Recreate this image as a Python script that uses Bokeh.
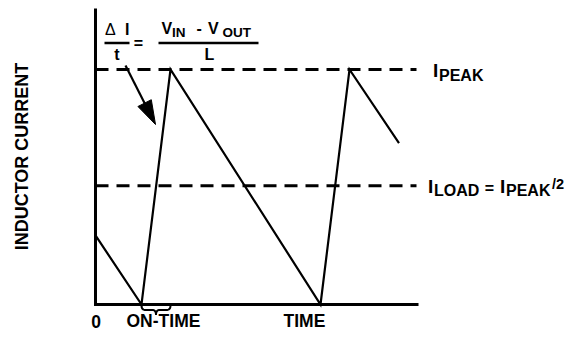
import numpy as np
from bokeh.plotting import figure
from bokeh.models import Range1d, Label
from bokeh.embed import file_html
from bokeh.resources import INLINE

# ---------------- data (time in arbitrary units, current relative to I_PEAK) ----------------
time_pts = [0.0, 46.0, 75.0, 225.0, 254.0, 303.5]
current_pts = [0.294, 0.0, 1.0, 0.0, 1.0, 0.687]
i_peak = 1.0
i_load = 0.505
on_time = [46.0, 75.0]
t_axis_end = 323.0
t_ref_end = 321.0
i_axis_top = 1.26
x_labels = ["0", "ON-TIME", "TIME"]

# ---------------- layout mapping (reference px -> figure px) ----------------
X0, Y0, SY = 97.0, 304.0, 235.0   # reference px of origin, px per current unit
W, H = 565, 331
SHIFT_X = 2.0                     # figure_x = ref_x - SHIFT_X
MID = 0.3465                      # baseline offset below em-middle (fraction of font size)


def dx(px):
    return px - X0


def dy(py):
    return (Y0 - py) / SY


p = figure(width=W, height=H,
           x_range=Range1d(SHIFT_X - X0, SHIFT_X + W - X0),
           y_range=Range1d(dy(H), dy(0)),
           output_backend="svg", toolbar_location=None,
           x_axis_location=None, y_axis_location=None,
           min_border=0)
p.min_border_left = p.min_border_right = p.min_border_top = p.min_border_bottom = 0
p.outline_line_color = None
p.xgrid.visible = False
p.ygrid.visible = False
p.background_fill_color = "white"
p.border_fill_color = "white"

FONT = "Liberation Sans"

# axes frame
p.line([0, 0, t_axis_end], [i_axis_top, 0, 0], line_width=3, line_color="black",
       line_join="miter", line_cap="butt")

# reference dashed lines
for lvl in (i_peak, i_load):
    p.line([0, t_ref_end], [lvl, lvl], line_width=3, line_color="black",
           line_dash="13 8", line_cap="butt")

# inductor current waveform
p.line(time_pts, current_pts, line_width=2.2, line_color="black", line_join="miter")

# brace under the on-time
x1, x2 = X0 + on_time[0], X0 + on_time[1]
xm = (x1 + x2) / 2


def qbez(a, c, b, n=8):
    t = np.linspace(0, 1, n)
    return ((1 - t) ** 2 * a[0] + 2 * (1 - t) * t * c[0] + t ** 2 * b[0],
            (1 - t) ** 2 * a[1] + 2 * (1 - t) * t * c[1] + t ** 2 * b[1])


ytop, ymid, ytip = 305.0, 309.5, 314.5
bx, by = [], []
for a, c, b in [((x1, ytop), (x1, ymid), (x1 + 4, ymid)),
                ((xm - 3.5, ymid), (xm, ymid), (xm, ytip)),
                ((xm, ytip), (xm, ymid), (xm + 3.5, ymid)),
                ((x2 - 4, ymid), (x2, ymid), (x2, ytop))]:
    qx, qy = qbez(a, c, b)
    bx.extend(qx)
    by.extend(qy)
p.line([dx(v) for v in bx], [dy(v) for v in by], line_width=2, line_color="black")

# arrow from the formula to the rising slope
sx, sy_, tx, ty = 127.0, 65.0, 157.0, 124.0
L = np.hypot(tx - sx, ty - sy_)
ux, uy = (tx - sx) / L, (ty - sy_) / L
hl, hw = 24.0, 7.5
bxc, byc = tx - hl * ux, ty - hl * uy
p.line([dx(sx), dx(bxc + 2 * ux)], [dy(sy_), dy(byc + 2 * uy)], line_width=2.2, line_color="black")
p.patch([dx(tx), dx(bxc - hw * uy), dx(bxc + hw * uy)],
        [dy(ty), dy(byc + hw * ux), dy(byc - hw * ux)],
        fill_color="black", line_color="black", line_width=1)

# fraction bars
p.segment(x0=[dx(106), dx(160)], y0=[dy(42.5), dy(42.5)],
          x1=[dx(131), dx(260)], y1=[dy(42.5), dy(42.5)],
          line_width=2.5, line_color="black")


def lab(text, px, base, size, bold=True, align="left", angle=0.0, centre=False):
    """Place a text run; `base` is its baseline in reference px (or its centre if centre=True)."""
    ymid = base if centre else base - MID * size
    p.add_layout(Label(x=dx(px), y=dy(ymid), text=text, text_font=FONT,
                       text_font_style="bold" if bold else "normal",
                       text_font_size=f"{size}px", text_align=align,
                       text_baseline="middle", text_color="black",
                       angle=angle))


# formula  ΔI/t = (V_IN - V_OUT)/L
lab("\u0394", 106.5, 35, 16, bold=False)
lab("I", 126.5, 35, 16)
lab("t", 118.5, 59.5, 16, align="center")
lab("=", 140, 42.5, 16, align="center", centre=True)
lab("V", 163, 33.5, 16)
lab("IN", 173.5, 37, 13.5)
lab("-", 198, 33.5, 16)
lab("V", 209.5, 33.5, 16)
lab("OUT", 224, 37, 13.5)
lab("L", 211, 59.5, 16, align="center")

# right-hand labels
lab("I", 434.5, 77, 19)
lab("PEAK", 440.5, 80.5, 16)
lab("I", 429.5, 193, 19)
lab("LOAD", 435.5, 196, 16)
lab("=", 491, 188, 16, align="center", centre=True)
lab("I", 501.5, 193, 19)
lab("PEAK", 507.5, 196, 16)
lab("/2", 553.5, 189, 14.5)

# axis labels
lab(x_labels[0], 97.5, 327, 17.5, align="center")
lab(x_labels[1], 128, 327, 17.5)
lab(x_labels[2], 285, 327, 17.5)
lab("INDUCTOR CURRENT", 23, 156, 18, align="center", angle=np.pi / 2, centre=True)

open("out.html", "w").write(file_html(p, INLINE))
